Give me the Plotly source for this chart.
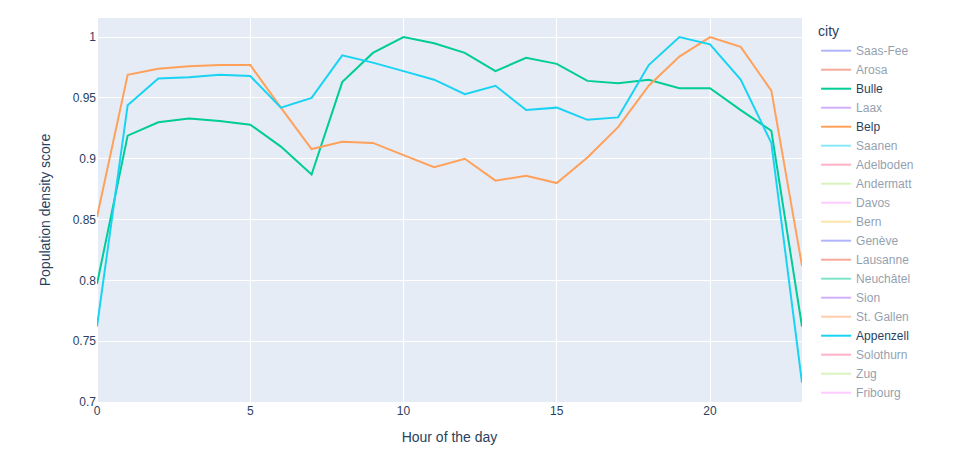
import plotly.graph_objects as go

hours = list(range(24))

# legend order as in the picture
cities = ['Saas-Fee', 'Arosa', 'Bulle', 'Laax', 'Belp', 'Saanen', 'Adelboden',
          'Andermatt', 'Davos', 'Bern', 'Genève', 'Lausanne', 'Neuchâtel', 'Sion',
          'St. Gallen', 'Appenzell', 'Solothurn', 'Zug', 'Fribourg']

bulle = [0.797, 0.919, 0.930, 0.933, 0.931, 0.928, 0.910, 0.887, 0.963, 0.987,
         1.000, 0.995, 0.987, 0.972, 0.983, 0.978, 0.964, 0.962, 0.965, 0.958,
         0.958, 0.940, 0.923, 0.762]
belp = [0.852, 0.969, 0.974, 0.976, 0.977, 0.977, 0.942, 0.908, 0.914, 0.913,
        0.903, 0.893, 0.900, 0.882, 0.886, 0.880, 0.901, 0.926, 0.960, 0.984,
        1.000, 0.992, 0.956, 0.812]
appenzell = [0.762, 0.944, 0.966, 0.967, 0.969, 0.968, 0.942, 0.950, 0.985, 0.979,
             0.972, 0.965, 0.953, 0.960, 0.940, 0.942, 0.932, 0.934, 0.977, 1.000,
             0.994, 0.965, 0.913, 0.716]

shown = {'Bulle': bulle, 'Belp': belp, 'Appenzell': appenzell}

palette = ['#636efa', '#EF553B', '#00cc96', '#ab63fa', '#FFA15A', '#19d3f3',
           '#FF6692', '#B6E880', '#FF97FF', '#FECB52']

fig = go.Figure()
for i, city in enumerate(cities):
    y = shown.get(city)
    # hidden cities: values not readable from the chart, kept as blanks
    fig.add_trace(go.Scatter(
        x=hours,
        y=y if y else [None] * len(hours),
        mode='lines',
        name=city,
        line=dict(color=palette[i % len(palette)], width=2),
        visible=True if y else 'legendonly',
    ))

# page body adds 8px, so size and margins are shrunk by that
fig.update_layout(
    width=945, height=446,
    template='plotly',
    font=dict(family='Liberation Sans, Arial, sans-serif'),
    margin=dict(l=89, r=151, t=10, b=52),
    legend=dict(title_text='city', tracegroupgap=0, maxheight=446),
    xaxis=dict(title_text='Hour of the day', range=[0, 23], dtick=5),
    yaxis=dict(title_text='Population density score', range=[0.7, 1.0157],
               dtick=0.05, title_standoff=18),
)

fig.write_html("out.html")
